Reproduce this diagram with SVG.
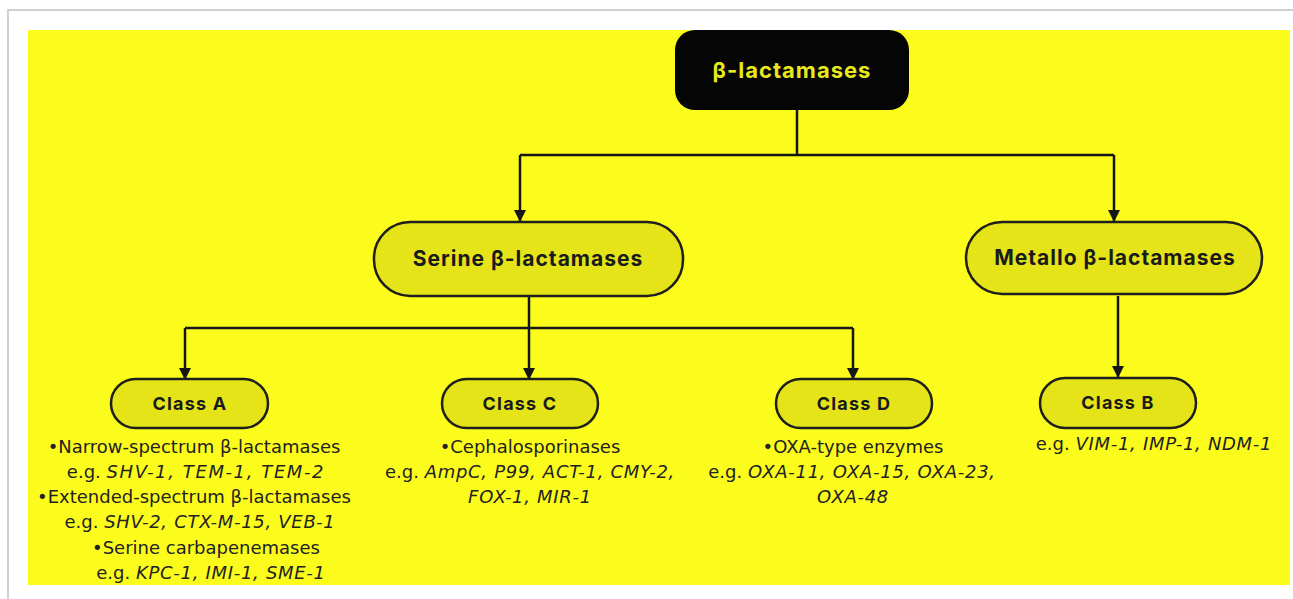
<svg xmlns="http://www.w3.org/2000/svg" width="1293" height="599" viewBox="0 0 1293 599">
<defs>
<marker id="arr" markerWidth="12" markerHeight="12" refX="10" refY="5" orient="auto" markerUnits="userSpaceOnUse" viewBox="0 0 10 10">
<path d="M0,0 L10,5 L0,10 Z" fill="#161616"/>
</marker>
<style>
.pill{fill:#e4e418;stroke:#1e1e1e;stroke-width:2.5}
.lbl{font-family:Inter,"Liberation Sans",Arial,sans-serif;font-weight:bold;fill:#1a1a1a;text-anchor:middle}
.big{font-size:21px;letter-spacing:1px}
.cls{font-size:18px;letter-spacing:1.2px}
.txt{font-family:"DejaVu Sans","Liberation Sans",Arial,sans-serif;font-size:18px;fill:#222;text-anchor:middle}
.it{font-style:italic;letter-spacing:0.7px}
.it.wide{letter-spacing:1.6px}
.edge{fill:none;stroke:#161616;stroke-width:2.5}
</style>
</defs>
<rect x="0" y="0" width="1293" height="599" fill="#ffffff"/>
<rect x="8" y="10" width="1290" height="600" fill="#ffffff" stroke="#d0d0d0" stroke-width="2"/>
<rect x="28" y="30" width="1262" height="555" fill="#fcfc1c"/>

<g id="connectors">
<path class="edge" d="M797,110 V155"/>
<path class="edge" d="M520,155 H1114"/>
<path class="edge" d="M520,155 V222" marker-end="url(#arr)"/>
<path class="edge" d="M1114,155 V222" marker-end="url(#arr)"/>
<path class="edge" d="M529,296 V380" marker-end="url(#arr)"/>
<path class="edge" d="M185,328 H853"/>
<path class="edge" d="M185,328 V380" marker-end="url(#arr)"/>
<path class="edge" d="M853,328 V380" marker-end="url(#arr)"/>
<path class="edge" d="M1118,296 V378" marker-end="url(#arr)"/>
</g>

<g id="root">
<rect x="675" y="30" width="234" height="80" rx="20" fill="#050505"/>
<text class="lbl" x="792" y="78" font-size="22" letter-spacing="1" style="fill:#e8e81a">β-lactamases</text>
</g>

<g id="serine">
<rect class="pill" x="374" y="222" width="309" height="74" rx="36"/>
<text class="lbl big" x="528" y="266">Serine β-lactamases</text>
</g>

<g id="metallo">
<rect class="pill" x="966" y="222" width="296" height="72" rx="36"/>
<text class="lbl big" x="1115" y="265">Metallo β-lactamases</text>
</g>

<g id="classA">
<rect class="pill" x="111" y="379" width="157" height="49" rx="24.5"/>
<text class="lbl cls" x="190" y="410">Class A</text>
<text class="txt" x="194" y="453">•Narrow-spectrum β-lactamases</text>
<text class="txt" x="196" y="478">e.g. <tspan class="it wide">SHV-1, TEM-1, TEM-2</tspan></text>
<text class="txt" x="194" y="503">•Extended-spectrum β-lactamases</text>
<text class="txt" x="200" y="528">e.g. <tspan class="it">SHV-2, CTX-M-15, VEB-1</tspan></text>
<text class="txt" x="206" y="554">•Serine carbapenemases</text>
<text class="txt" x="211" y="579">e.g. <tspan class="it">KPC-1, IMI-1, SME-1</tspan></text>
</g>

<g id="classC">
<rect class="pill" x="442" y="379" width="156" height="49" rx="24.5"/>
<text class="lbl cls" x="520" y="410">Class C</text>
<text class="txt" x="530" y="453">•Cephalosporinases</text>
<text class="txt" x="530" y="478">e.g. <tspan class="it">AmpC, P99, ACT-1, CMY-2,</tspan></text>
<text class="txt" x="530" y="503"><tspan class="it">FOX-1, MIR-1</tspan></text>
</g>

<g id="classD">
<rect class="pill" x="776" y="379" width="156" height="49" rx="24.5"/>
<text class="lbl cls" x="854" y="410">Class D</text>
<text class="txt" x="853" y="453">•OXA-type enzymes</text>
<text class="txt" x="852" y="478">e.g. <tspan class="it">OXA-11, OXA-15, OXA-23,</tspan></text>
<text class="txt" x="853" y="503"><tspan class="it">OXA-48</tspan></text>
</g>

<g id="classB">
<rect class="pill" x="1040" y="378" width="156" height="50" rx="25"/>
<text class="lbl cls" x="1118" y="409">Class B</text>
<text class="txt" x="1154" y="450">e.g. <tspan class="it">VIM-1, IMP-1, NDM-1</tspan></text>
</g>
</svg>
